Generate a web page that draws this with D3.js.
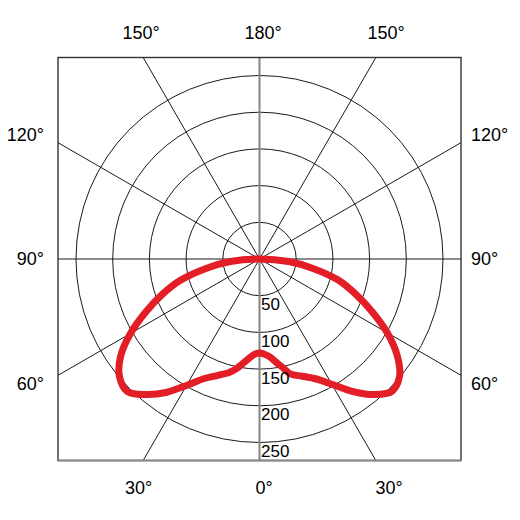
<!DOCTYPE html>
<html><head><meta charset="utf-8">
<script src="https://cdn.jsdelivr.net/npm/d3@7"></script>
<style>body{margin:0;background:#fff}svg{display:block}</style></head>
<body><svg id="c" width="520" height="520"></svg>
<script>
// ---- data ----
const angles      = [0, 3, 6, 9, 12, 15, 20, 25, 30, 35, 40, 45, 50, 55, 60, 65, 70, 75, 80, 85, 90];
const leftValues  = [128, 130, 136, 144, 153, 160, 169, 180, 199, 222, 241, 255, 249, 231, 203, 171, 141, 111, 74, 40, 0];
const rightValues = [128, 130, 134, 142, 151, 162, 170, 180, 197, 220, 241, 255, 249, 229, 201, 169, 139, 111, 74, 40, 0];
const ringTicks   = [50, 100, 150, 200, 250];
const spokeAngles = [0, 30, 60, 90, 120, 150, 180, 210, 240, 270, 300, 330];
const topLabels    = ["150°", "180°", "150°"];
const bottomLabels = ["30°", "0°", "30°"];
const sideLabels   = ["120°", "90°", "60°"];

// ---- layout ----
const box = {x0: 58, y0: 57.5, x1: 461, y1: 460.5};
const cx = 259.5, cy = 259;
const rMax = 183.5;
const svg = d3.select("#c");
const font = "'Liberation Sans', Arial, Helvetica, sans-serif";

const r = d3.scaleLinear().domain([0, 250]).range([0, rMax]);
const deg = d => d * Math.PI / 180;

const g = svg.append("g").attr("transform", `translate(${cx},${cy})`);

svg.append("defs").append("clipPath").attr("id", "boxclip")
  .append("rect").attr("x", box.x0 - cx).attr("y", box.y0 - cy)
  .attr("width", box.x1 - box.x0).attr("height", box.y1 - box.y0);

// spokes (angle measured from downward direction)
const grid = g.append("g").attr("clip-path", "url(#boxclip)");
grid.selectAll("line.spoke").data(spokeAngles.filter(a => a % 180 !== 0)).join("line")
  .attr("class", "spoke")
  .attr("x1", 0).attr("y1", 0)
  .attr("x2", a => 600 * Math.sin(deg(a)))
  .attr("y2", a => 600 * Math.cos(deg(a)))
  .attr("stroke", "#1a1a1a").attr("stroke-width", 1);

// rings
grid.selectAll("circle").data(ringTicks).join("circle")
  .attr("r", d => r(d)).attr("fill", "none")
  .attr("stroke", "#1a1a1a").attr("stroke-width", 1);

// vertical axis (gray, thicker)
grid.append("line").attr("x1", 0).attr("x2", 0)
  .attr("y1", box.y0 - cy).attr("y2", box.y1 - cy)
  .attr("stroke", "#858585").attr("stroke-width", 2);

// box
svg.append("rect").attr("x", box.x0).attr("y", box.y0)
  .attr("width", box.x1 - box.x0).attr("height", box.y1 - box.y0)
  .attr("fill", "none").attr("stroke", "#333").attr("stroke-width", 1.4);
svg.append("line").attr("x1", box.x0).attr("x2", box.x1)
  .attr("y1", box.y1).attr("y2", box.y1)
  .attr("stroke", "#8a8a8a").attr("stroke-width", 2);

// curve
const pts = [];
for (let i = angles.length - 1; i >= 0; i--) pts.push({a: Math.PI + deg(angles[i]), v: leftValues[i]});
for (let i = 1; i < angles.length - 1; i++) pts.push({a: Math.PI - deg(angles[i]), v: rightValues[i]});
const line = d3.lineRadial().angle(d => d.a).radius(d => r(d.v))
  .curve(d3.curveCatmullRomClosed.alpha(0.5));
g.append("path").attr("d", line(pts))
  .attr("fill", "none").attr("stroke", "#e31e26").attr("stroke-width", 7)
  .attr("stroke-linejoin", "round");

// radial labels
g.selectAll("text.ring").data(ringTicks).join("text")
  .attr("class", "ring")
  .attr("x", 1.5).attr("y", d => r(d) + 14.5)
  .attr("font-family", font).attr("font-size", 17).attr("fill", "#000")
  .text(d => d);

// angle labels
const lab = svg.append("g").attr("font-family", font).attr("font-size", 18).attr("fill", "#000");
const topX = [141, 263, 386], botX = [138.5, 264, 389];
lab.selectAll("text.top").data(topLabels).join("text").attr("class", "top")
  .attr("x", (d, i) => topX[i]).attr("y", 38.5).attr("text-anchor", "middle").text(d => d);
lab.selectAll("text.bot").data(bottomLabels).join("text").attr("class", "bot")
  .attr("x", (d, i) => botX[i]).attr("y", 493.5).attr("text-anchor", "middle").text(d => d);
const sideY = [141, 265, 390];
lab.selectAll("text.left").data(sideLabels).join("text").attr("class", "left")
  .attr("x", 44).attr("y", (d, i) => sideY[i]).attr("text-anchor", "end").text(d => d);
lab.selectAll("text.right").data(sideLabels).join("text").attr("class", "right")
  .attr("x", 471).attr("y", (d, i) => sideY[i]).attr("text-anchor", "start").text(d => d);
</script></body></html>
